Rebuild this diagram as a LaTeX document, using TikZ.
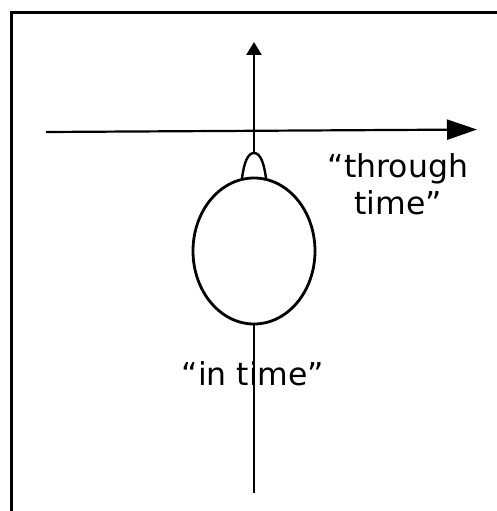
\documentclass[tikz,border=0pt]{standalone}
\usepackage{fontspec}
\setmainfont{DejaVu Sans}
\usetikzlibrary{arrows.meta,shapes.geometric}
\begin{document}
\begin{tikzpicture}[x=1pt,y=-1pt,
  axis/.style={line width=2.5pt},
  lbl/.style={font=\fontsize{31.5}{37}\selectfont, inner sep=0pt, align=center},
  body/.style={ellipse, draw, line width=2.8pt, minimum width=122pt, minimum height=146pt, inner sep=0pt}]
\useasboundingbox (0,0) rectangle (497,511);
% frame
\draw[line width=2.4pt] (11.3,520) -- (11.3,12.7) -- (510,12.7);
% nodes
\node[body] (bod) at (254,251) {};
\coordinate (bl) at (242,178.5);
\coordinate (br) at (266,178.5);
\coordinate (btop) at (254,153);
\coordinate (vtip) at (254,42);
\coordinate (vbot) at (254,493);
\coordinate (hl) at (46,132);
\coordinate (hr) at (477,129.5);
% bulb
\draw[line width=2.4pt] (bl) .. controls (244,162) and (248,153) .. (btop) .. controls (260,153) and (264,162) .. (br);
% vertical axis
\draw[axis,-{Triangle[width=15pt,length=13pt]}] (btop) -- (vtip);
\draw[axis] (bod.south) -- (vbot);
% horizontal axis
\draw[line width=2.2pt,-{Triangle[width=20pt,length=30pt]}] (hl) -- (hr);
% labels
\node[lbl, anchor=base] (thr) at (398,214) {“through\\time”};
\node[lbl, anchor=base] (int) at (253,385) {“in time”};
\end{tikzpicture}
\end{document}
